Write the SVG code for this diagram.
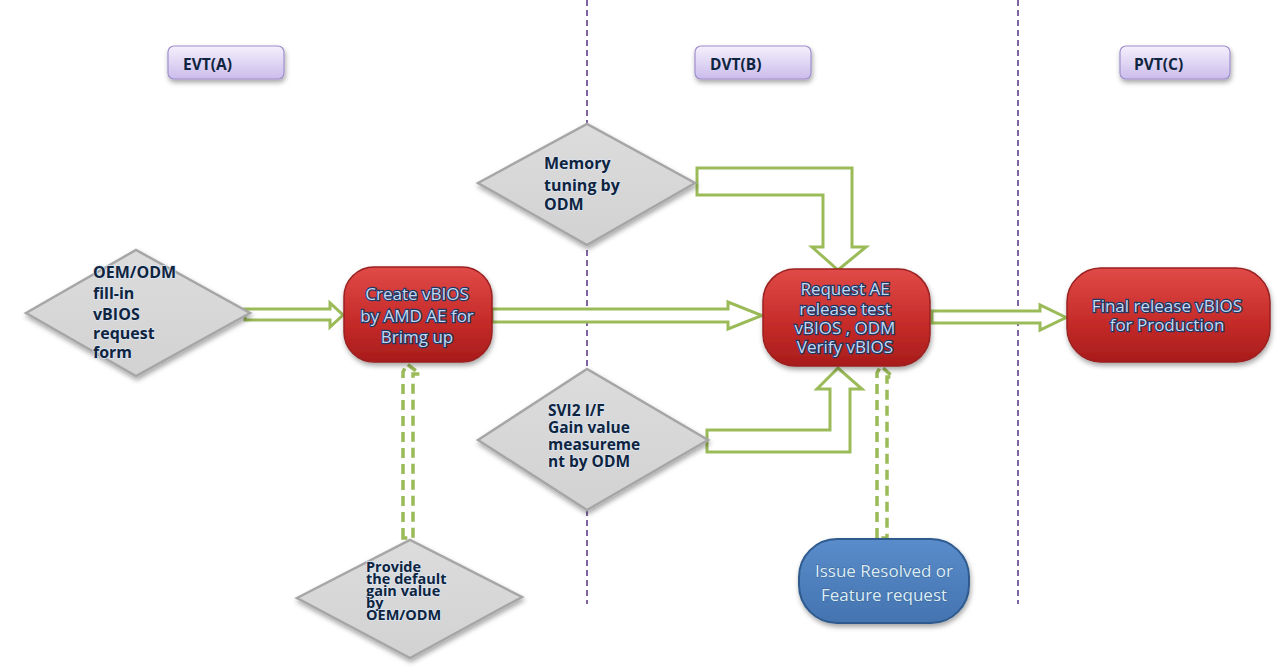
<svg xmlns="http://www.w3.org/2000/svg" width="1284" height="672" viewBox="0 0 1284 672">
<defs>
<linearGradient id="lav" x1="0" y1="0" x2="0" y2="1"><stop offset="0" stop-color="#f4f0fc"/><stop offset="1" stop-color="#cbbcec"/></linearGradient>
<linearGradient id="red" x1="0" y1="0" x2="0" y2="1"><stop offset="0" stop-color="#e04a47"/><stop offset="0.6" stop-color="#c42a28"/><stop offset="1" stop-color="#a81c1c"/></linearGradient>
<linearGradient id="blue" x1="0" y1="0" x2="0" y2="1"><stop offset="0" stop-color="#5a8ccb"/><stop offset="1" stop-color="#4474b0"/></linearGradient>
<linearGradient id="gray" x1="0" y1="0" x2="0" y2="1"><stop offset="0" stop-color="#dcdcdc"/><stop offset="1" stop-color="#d2d2d2"/></linearGradient>
<filter id="sh" x="-20%" y="-20%" width="140%" height="150%"><feDropShadow dx="1" dy="3" stdDeviation="2.5" flood-color="#000" flood-opacity="0.35"/></filter>
</defs>
<style>
.div{stroke:#8064a2;stroke-width:2;stroke-dasharray:6 4;fill:none}
.conn{fill:#fff;stroke:#9bbb59;stroke-width:3;stroke-linejoin:miter}
.dash{fill:none;stroke:#9bbb59;stroke-width:3.5;stroke-dasharray:10 6}
.phase{fill:url(#lav);stroke:#a08fcc;stroke-width:1.2}
.phaset{font-family:"Open Sans","Liberation Sans",sans-serif;font-weight:bold;font-size:15.5px;fill:#0f243e}
.dia{fill:url(#gray);stroke:#a6a6a6;stroke-width:2.5}
.diat{font-family:"Open Sans","Liberation Sans",sans-serif;font-weight:bold;font-size:16px;fill:#0f243e;stroke:#dbe5f1;stroke-width:1.5;paint-order:stroke}
.rbox{fill:url(#red);stroke:#9a2020;stroke-width:1.5}
.rt{font-family:"Open Sans","Liberation Sans",sans-serif;font-size:17px;fill:#c6d9f1;stroke:#1f3864;stroke-width:2.4;paint-order:stroke;text-anchor:middle}
.bbox{fill:url(#blue);stroke:#2f5a8e;stroke-width:2}
.bt{font-family:"Open Sans","Liberation Sans",sans-serif;font-size:17px;fill:#dbeefa;stroke:#3a5f8a;stroke-width:0.8;paint-order:stroke;text-anchor:middle}
</style>
<rect width="1284" height="672" fill="#fff"/>
<g id="dividers">
<line class="div" x1="587" y1="0" x2="587" y2="604"/>
<line class="div" x1="1018" y1="0" x2="1018" y2="604"/>
</g>
<g id="phases">
<g id="evt"><rect class="phase" x="168" y="46" width="116" height="33" rx="6" filter="url(#sh)"/><text class="phaset" x="183" y="70">EVT(A)</text></g>
<g id="dvt"><rect class="phase" x="695" y="46" width="116" height="33" rx="6" filter="url(#sh)"/><text class="phaset" x="710" y="70">DVT(B)</text></g>
<g id="pvt"><rect class="phase" x="1120" y="46" width="110" height="33" rx="6" filter="url(#sh)"/><text class="phaset" x="1134" y="70">PVT(C)</text></g>
</g>
<g id="connectors">
<polygon class="conn" points="245,309 330,309 330,303 343,315 330,327 330,320 245,320"/>
<polygon class="conn" points="492,309 728,309 728,302 762,315.5 728,329 728,322 492,322"/>
<polygon class="conn" points="697,168 852,168 852,247 866,247 838,270 812,247 823,247 823,195 697,195"/>
<polygon class="conn" points="707,452 850,452 850,389 862,389 838,368 817,389 830,389 830,430 707,430"/>
<polygon class="conn" points="932,311 1040,311 1040,305 1066,317.5 1040,330 1040,323 932,323"/>
<polygon class="dash" points="403,538 403,372 407,364 420,374 413,374 413,538"/>
<polygon class="dash" points="877,538 877,373 881,366 893,377 887,377 887,538"/>
</g>
<g id="n-request-form">
<polygon class="dia" points="26,313 136,250 250,313 136,376" filter="url(#sh)"/>
<text class="diat" x="93" y="278">OEM/ODM</text>
<text class="diat" x="93" y="299">fill-in</text>
<text class="diat" x="93" y="320">vBIOS</text>
<text class="diat" x="93" y="339">request</text>
<text class="diat" x="93" y="358">form</text>
</g>
<g id="n-create">
<rect class="rbox" x="344" y="267" width="148" height="95" rx="30" filter="url(#sh)"/>
<text class="rt" x="417" y="300">Create vBIOS</text>
<text class="rt" x="417" y="322">by AMD AE for</text>
<text class="rt" x="417" y="343">Brimg up</text>
</g>
<g id="n-memory">
<polygon class="dia" points="478,183 587,124 695,183 587,245" filter="url(#sh)"/>
<text class="diat" x="544" y="169">Memory</text>
<text class="diat" x="544" y="191">tuning by</text>
<text class="diat" x="544" y="210">ODM</text>
</g>
<g id="n-svi2">
<polygon class="dia" points="478,440 587,369 708,440 587,510" filter="url(#sh)"/>
<text class="diat" x="548" y="416" style="font-size:15.5px">SVI2 I/F</text>
<text class="diat" x="548" y="433" style="font-size:15.5px">Gain value</text>
<text class="diat" x="548" y="450" style="font-size:15.5px">measureme</text>
<text class="diat" x="548" y="467" style="font-size:15.5px">nt by ODM</text>
</g>
<g id="n-request-ae">
<rect class="rbox" x="763" y="269" width="167" height="97" rx="32" filter="url(#sh)"/>
<text class="rt" x="845" y="295">Request AE</text>
<text class="rt" x="845" y="315">release test</text>
<text class="rt" x="845" y="334">vBIOS , ODM</text>
<text class="rt" x="845" y="353">Verify vBIOS</text>
</g>
<g id="n-final">
<rect class="rbox" x="1067" y="268" width="203" height="94" rx="34" filter="url(#sh)"/>
<text class="rt" x="1167" y="312">Final release vBIOS</text>
<text class="rt" x="1167" y="331">for Production</text>
</g>
<g id="n-provide">
<polygon class="dia" points="297,598 410,540 522,597 410,658" filter="url(#sh)"/>
<text class="diat" x="366" y="572" style="font-size:14.5px">Provide</text>
<text class="diat" x="366" y="584" style="font-size:14.5px">the default</text>
<text class="diat" x="366" y="596" style="font-size:14.5px">gain value</text>
<text class="diat" x="366" y="608" style="font-size:14.5px">by</text>
<text class="diat" x="366" y="620" style="font-size:14.5px">OEM/ODM</text>
</g>
<g id="n-issue">
<rect class="bbox" x="799" y="539" width="170" height="84" rx="38" filter="url(#sh)"/>
<text class="bt" x="884" y="577">Issue Resolved or</text>
<text class="bt" x="884" y="601">Feature request</text>
</g>
</svg>
